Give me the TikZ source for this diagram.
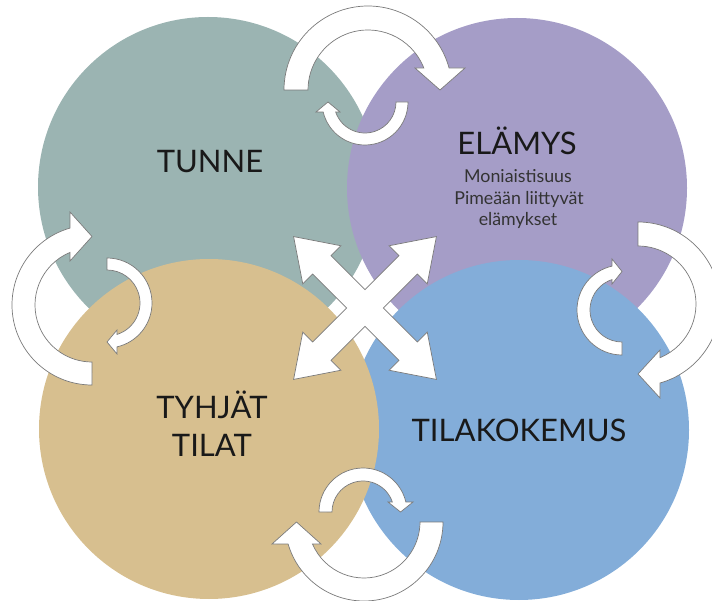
\documentclass[tikz,border=0pt]{standalone}
\usepackage{fontspec}
\setmainfont{Lato}
\definecolor{cteal}{HTML}{9BB4B2}
\definecolor{cpurple}{HTML}{A59DC7}
\definecolor{ctan}{HTML}{D7BF8F}
\definecolor{cblue}{HTML}{83ADD9}
\definecolor{cedge}{HTML}{7A7A7A}
\tikzset{
  blob/.style={circle, minimum size=340pt, inner sep=0pt, draw=none},
  arrowshape/.style={fill=white, draw=cedge, line width=0.7pt, line join=miter},
  bigtext/.style={font=\fontsize{31}{33}\selectfont, text=black!90, anchor=base, inner sep=0pt},
  smalltext/.style={font=\fontsize{17.8}{19}\selectfont, text=black!80, anchor=base, inner sep=0pt}
}
% #1 cx, #2 cy, #3 rotation, #4 inner r, #5 outer r, #6 head length, #7 wing extension
\newcommand\cycarrow[7]{%
  \begin{scope}[shift={(#1,#2)}, rotate=#3]
    \draw[arrowshape] (-#5,0) arc[start angle=180, end angle={asin(#6/#5)}, radius=#5]
      -- ({#5+#7},#6) -- ({(#4+#5)/2},0) -- ({#4-#7},#6)
      -- ({sqrt(#4*#4-#6*#6)},#6)
      arc[start angle={asin(#6/#4)}, end angle=180, radius=#4] -- cycle;
  \end{scope}}
\begin{document}
\begin{tikzpicture}[x=1pt,y=1pt]
\useasboundingbox (0,0) rectangle (712,600);
\clip (0,0) rectangle (712,600);
% circles
\node[blob, fill=cteal]   (tunne)  at (208,413) {};
\node[blob, fill=cpurple] (elamys) at (517,412) {};
\node[blob, fill=cblue]   (tila)   at (519,170) {};
\node[blob, fill=ctan]    (tyhja)  at (209,171) {};
% labels
\node[bigtext] (ttunne) at (210,427) {TUNNE};
\node[bigtext] (telamys) at (517,445) {ELÄMYS};
\node[smalltext] (tsub1) at (518,417) {Moniaistisuus};
\node[smalltext] (tsub2) at (519,395) {Pimeään liittyvät};
\node[smalltext] (tsub3) at (518,374) {elämykset};
\node[bigtext] (ttyhja1) at (212,181) {TYHJÄT};
\node[bigtext] (ttyhja2) at (212,143) {TILAT};
\node[bigtext] (ttila) at (519,158) {TILAKOKEMUS};
% circular arrows
\cycarrow{368}{510}{0}{60}{84}{22}{13}
\cycarrow{365}{498}{180}{31}{43}{10}{6}
\cycarrow{92}{295}{90}{57}{80}{22}{13}
\cycarrow{107}{297}{-90}{33}{45}{10}{6}
\cycarrow{638}{296}{-90}{58}{82}{22}{12}
\cycarrow{622}{290}{90}{32}{45}{10}{6}
\cycarrow{364}{78}{180}{56}{79}{22}{13}
\cycarrow{363}{88}{0}{31}{44}{10}{6}
% central four-way arrow
\begin{scope}[shift={(365,292)}, rotate=45]
  \def\s{13}\def\w{27}\def\L{101}\def\b{61}
  \draw[arrowshape] (\s,\s) -- (\b,\s) -- (\b,\w) -- (\L,0) -- (\b,-\w) -- (\b,-\s)
    -- (\s,-\s) -- (\s,-\b) -- (\w,-\b) -- (0,-\L) -- (-\w,-\b) -- (-\s,-\b)
    -- (-\s,-\s) -- (-\b,-\s) -- (-\b,-\w) -- (-\L,0) -- (-\b,\w) -- (-\b,\s)
    -- (-\s,\s) -- (-\s,\b) -- (-\w,\b) -- (0,\L) -- (\w,\b) -- (\s,\b) -- cycle;
\end{scope}
\end{tikzpicture}
\end{document}
